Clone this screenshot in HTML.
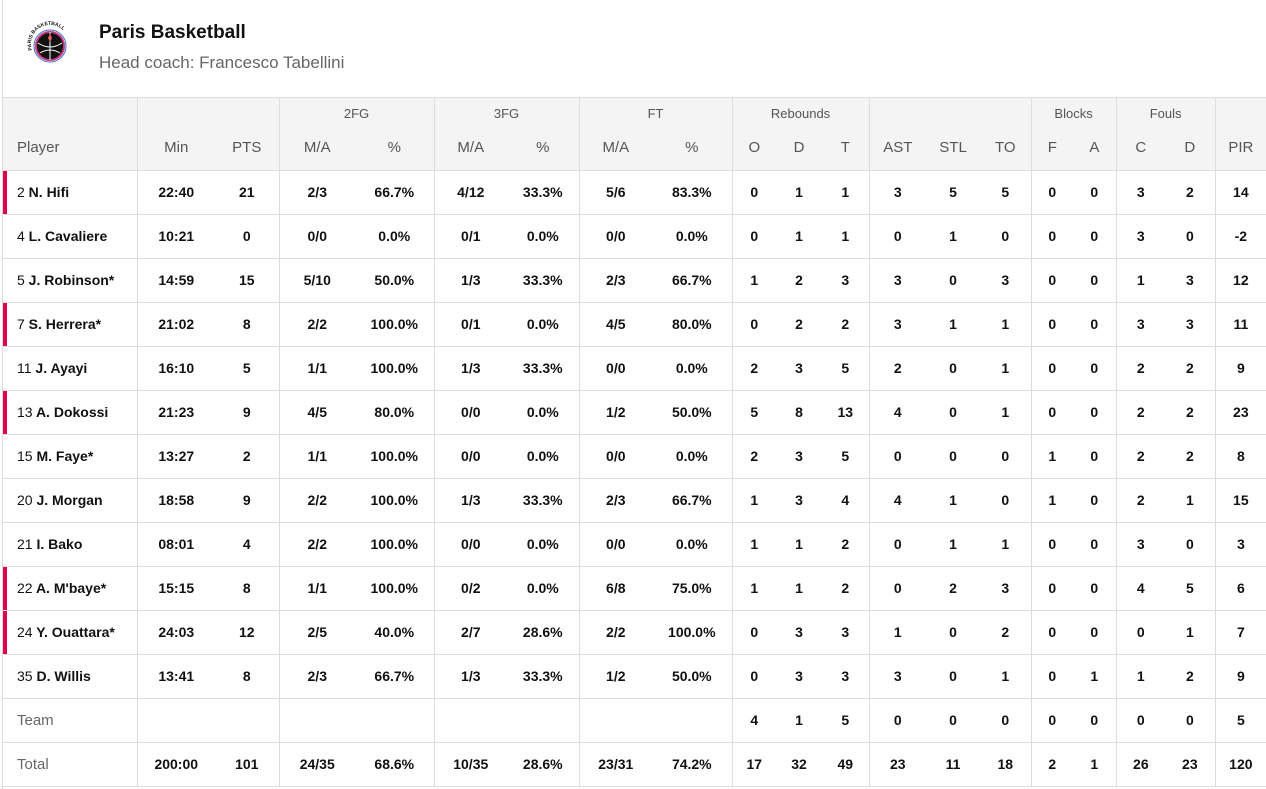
<!DOCTYPE html>
<html><head><meta charset="utf-8"><style>
body{margin:0;width:1266px;height:789px;background:#fff;font-family:"Liberation Sans",sans-serif;overflow:hidden;position:relative}
.lb{position:absolute;left:2px;top:0;width:1px;height:789px;background:#ddd}
.title{position:absolute;left:99px;top:22px;font-size:19px;font-weight:bold;color:#111}
.coach{position:absolute;left:99px;top:53px;font-size:17px;color:#666}
table{position:absolute;left:3px;top:97px;border-collapse:collapse;table-layout:fixed;width:1263px}
td,th{padding:0;text-align:center;font-size:14px;border-top:1px solid #ddd;border-bottom:1px solid #ddd}
th{background:#f4f4f4;font-weight:normal;color:#555}
tr.g th{height:30px;font-size:13px;border-bottom:none;vertical-align:middle}
tr.h th{height:42px;border-top:none;font-size:15px;vertical-align:top;padding-top:11px;box-sizing:border-box}
td{height:43px;font-weight:bold;color:#111}
.v{border-left:1px solid #ddd}
td.p,th.p{text-align:left;padding-left:14px;position:relative}
td.p span{font-weight:normal}
td.p.r:before{content:"";position:absolute;left:0;top:0;bottom:0;width:4px;background:#e0004d}
td.n{font-weight:normal;color:#666;font-size:15px}
</style></head><body>
<div class="lb"></div>
<svg style="position:absolute;left:25px;top:20px" width="50" height="50" viewBox="0 0 50 50">
<circle cx="25" cy="26" r="14" fill="#111" stroke="#c0397a" stroke-width="2"/>
<circle cx="25" cy="26" r="16" fill="none" stroke="#4466cc" stroke-width="1"/>
<path d="M13 23 Q25 31 37 23 M15 33 Q25 27 35 33 M25 12 V40" stroke="#fff" stroke-width="1" fill="none"/>
<path d="M25 14 L27 18 L25 22 L23 18Z" fill="#e66"/>
<path id="arc" d="M7 30 A19 19 0 1 1 43 30" fill="none"/>
<text font-size="5" font-weight="bold" fill="#111"><textPath href="#arc">PARIS BASKETBALL</textPath></text>
</svg>
<div class="title">Paris Basketball</div>
<div class="coach">Head coach: Francesco Tabellini</div>
<table>
<colgroup><col style="width:134px"><col style="width:78px"><col style="width:64px"><col style="width:76px"><col style="width:79px"><col style="width:73px"><col style="width:72px"><col style="width:73px"><col style="width:80px"><col style="width:44px"><col style="width:46px"><col style="width:47px"><col style="width:57px"><col style="width:54px"><col style="width:51px"><col style="width:42px"><col style="width:43px"><col style="width:49px"><col style="width:50px"><col style="width:51px"></colgroup>
<tr class="g"><th class="p"></th><th class="v" colspan="2"></th><th class="v" colspan="2">2FG</th><th class="v" colspan="2">3FG</th><th class="v" colspan="2">FT</th><th class="v" colspan="3">Rebounds</th><th class="v" colspan="3"></th><th class="v" colspan="2">Blocks</th><th class="v" colspan="2">Fouls</th><th class="v"></th></tr>
<tr class="h"><th class="p">Player</th><th class="v">Min</th><th>PTS</th><th class="v">M/A</th><th>%</th><th class="v">M/A</th><th>%</th><th class="v">M/A</th><th>%</th><th class="v">O</th><th>D</th><th>T</th><th class="v">AST</th><th>STL</th><th>TO</th><th class="v">F</th><th>A</th><th class="v">C</th><th>D</th><th class="v">PIR</th></tr>
<tr><td class="p r"><span>2</span> N. Hifi</td><td class="v">22:40</td><td>21</td><td class="v">2/3</td><td>66.7%</td><td class="v">4/12</td><td>33.3%</td><td class="v">5/6</td><td>83.3%</td><td class="v">0</td><td>1</td><td>1</td><td class="v">3</td><td>5</td><td>5</td><td class="v">0</td><td>0</td><td class="v">3</td><td>2</td><td class="v">14</td></tr>
<tr><td class="p"><span>4</span> L. Cavaliere</td><td class="v">10:21</td><td>0</td><td class="v">0/0</td><td>0.0%</td><td class="v">0/1</td><td>0.0%</td><td class="v">0/0</td><td>0.0%</td><td class="v">0</td><td>1</td><td>1</td><td class="v">0</td><td>1</td><td>0</td><td class="v">0</td><td>0</td><td class="v">3</td><td>0</td><td class="v">-2</td></tr>
<tr><td class="p"><span>5</span> J. Robinson*</td><td class="v">14:59</td><td>15</td><td class="v">5/10</td><td>50.0%</td><td class="v">1/3</td><td>33.3%</td><td class="v">2/3</td><td>66.7%</td><td class="v">1</td><td>2</td><td>3</td><td class="v">3</td><td>0</td><td>3</td><td class="v">0</td><td>0</td><td class="v">1</td><td>3</td><td class="v">12</td></tr>
<tr><td class="p r"><span>7</span> S. Herrera*</td><td class="v">21:02</td><td>8</td><td class="v">2/2</td><td>100.0%</td><td class="v">0/1</td><td>0.0%</td><td class="v">4/5</td><td>80.0%</td><td class="v">0</td><td>2</td><td>2</td><td class="v">3</td><td>1</td><td>1</td><td class="v">0</td><td>0</td><td class="v">3</td><td>3</td><td class="v">11</td></tr>
<tr><td class="p"><span>11</span> J. Ayayi</td><td class="v">16:10</td><td>5</td><td class="v">1/1</td><td>100.0%</td><td class="v">1/3</td><td>33.3%</td><td class="v">0/0</td><td>0.0%</td><td class="v">2</td><td>3</td><td>5</td><td class="v">2</td><td>0</td><td>1</td><td class="v">0</td><td>0</td><td class="v">2</td><td>2</td><td class="v">9</td></tr>
<tr><td class="p r"><span>13</span> A. Dokossi</td><td class="v">21:23</td><td>9</td><td class="v">4/5</td><td>80.0%</td><td class="v">0/0</td><td>0.0%</td><td class="v">1/2</td><td>50.0%</td><td class="v">5</td><td>8</td><td>13</td><td class="v">4</td><td>0</td><td>1</td><td class="v">0</td><td>0</td><td class="v">2</td><td>2</td><td class="v">23</td></tr>
<tr><td class="p"><span>15</span> M. Faye*</td><td class="v">13:27</td><td>2</td><td class="v">1/1</td><td>100.0%</td><td class="v">0/0</td><td>0.0%</td><td class="v">0/0</td><td>0.0%</td><td class="v">2</td><td>3</td><td>5</td><td class="v">0</td><td>0</td><td>0</td><td class="v">1</td><td>0</td><td class="v">2</td><td>2</td><td class="v">8</td></tr>
<tr><td class="p"><span>20</span> J. Morgan</td><td class="v">18:58</td><td>9</td><td class="v">2/2</td><td>100.0%</td><td class="v">1/3</td><td>33.3%</td><td class="v">2/3</td><td>66.7%</td><td class="v">1</td><td>3</td><td>4</td><td class="v">4</td><td>1</td><td>0</td><td class="v">1</td><td>0</td><td class="v">2</td><td>1</td><td class="v">15</td></tr>
<tr><td class="p"><span>21</span> I. Bako</td><td class="v">08:01</td><td>4</td><td class="v">2/2</td><td>100.0%</td><td class="v">0/0</td><td>0.0%</td><td class="v">0/0</td><td>0.0%</td><td class="v">1</td><td>1</td><td>2</td><td class="v">0</td><td>1</td><td>1</td><td class="v">0</td><td>0</td><td class="v">3</td><td>0</td><td class="v">3</td></tr>
<tr><td class="p r"><span>22</span> A. M'baye*</td><td class="v">15:15</td><td>8</td><td class="v">1/1</td><td>100.0%</td><td class="v">0/2</td><td>0.0%</td><td class="v">6/8</td><td>75.0%</td><td class="v">1</td><td>1</td><td>2</td><td class="v">0</td><td>2</td><td>3</td><td class="v">0</td><td>0</td><td class="v">4</td><td>5</td><td class="v">6</td></tr>
<tr><td class="p r"><span>24</span> Y. Ouattara*</td><td class="v">24:03</td><td>12</td><td class="v">2/5</td><td>40.0%</td><td class="v">2/7</td><td>28.6%</td><td class="v">2/2</td><td>100.0%</td><td class="v">0</td><td>3</td><td>3</td><td class="v">1</td><td>0</td><td>2</td><td class="v">0</td><td>0</td><td class="v">0</td><td>1</td><td class="v">7</td></tr>
<tr><td class="p"><span>35</span> D. Willis</td><td class="v">13:41</td><td>8</td><td class="v">2/3</td><td>66.7%</td><td class="v">1/3</td><td>33.3%</td><td class="v">1/2</td><td>50.0%</td><td class="v">0</td><td>3</td><td>3</td><td class="v">3</td><td>0</td><td>1</td><td class="v">0</td><td>1</td><td class="v">1</td><td>2</td><td class="v">9</td></tr>
<tr><td class="p n">Team</td><td class="v"></td><td></td><td class="v"></td><td></td><td class="v"></td><td></td><td class="v"></td><td></td><td class="v">4</td><td>1</td><td>5</td><td class="v">0</td><td>0</td><td>0</td><td class="v">0</td><td>0</td><td class="v">0</td><td>0</td><td class="v">5</td></tr>
<tr><td class="p n">Total</td><td class="v">200:00</td><td>101</td><td class="v">24/35</td><td>68.6%</td><td class="v">10/35</td><td>28.6%</td><td class="v">23/31</td><td>74.2%</td><td class="v">17</td><td>32</td><td>49</td><td class="v">23</td><td>11</td><td>18</td><td class="v">2</td><td>1</td><td class="v">26</td><td>23</td><td class="v">120</td></tr>
</table>
</body></html>
